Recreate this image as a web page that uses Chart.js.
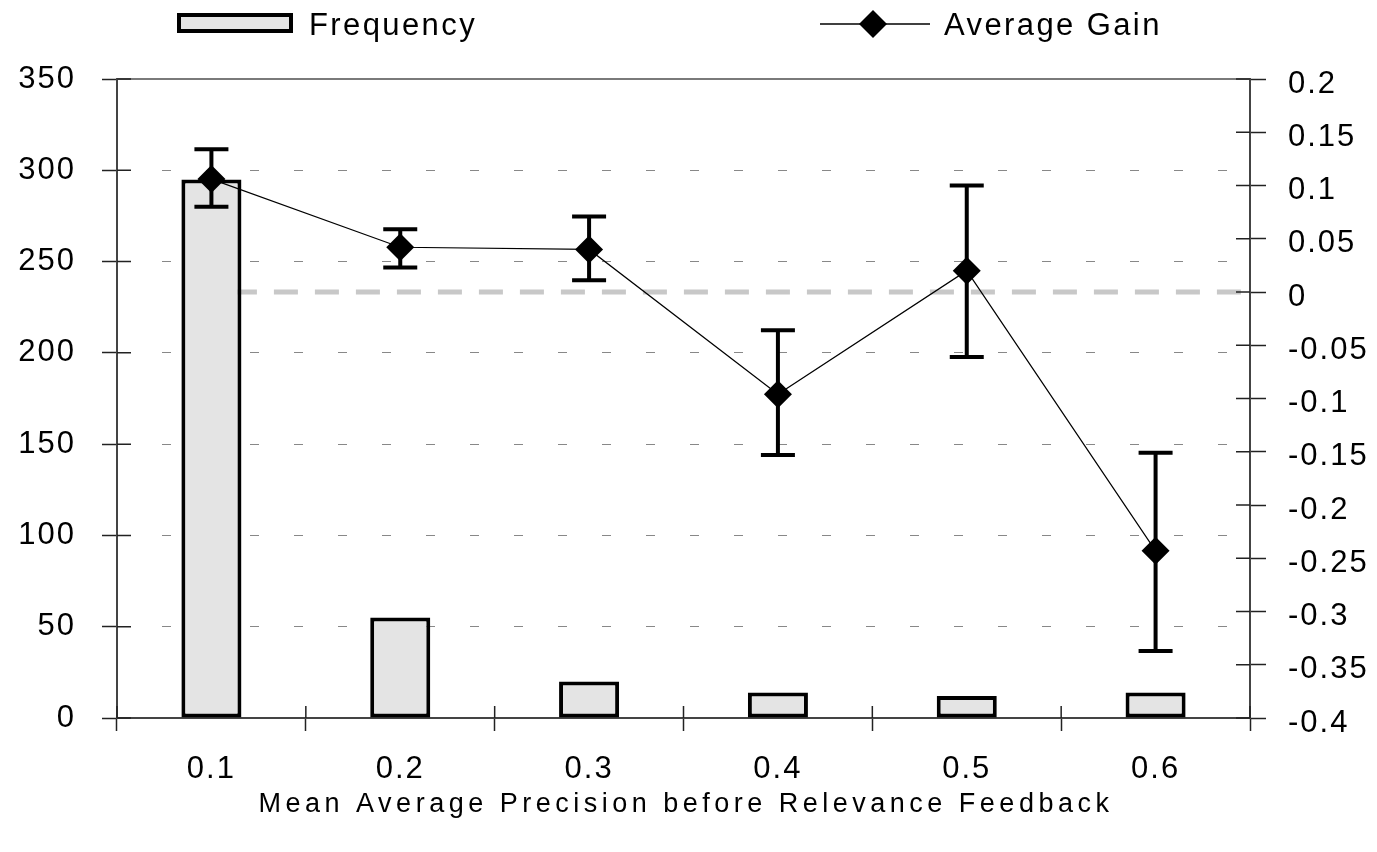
<!DOCTYPE html>
<html>
<head>
<meta charset="utf-8">
<script src="https://cdn.jsdelivr.net/npm/chart.js@4.4.0/dist/chart.umd.min.js"></script>
<style>
  html, body { margin: 0; padding: 0; background: #fff; }
  canvas { display: block; }
</style>
</head>
<body>
<canvas id="chart" width="1377" height="852"></canvas>
<script>
// Значения
const categories = ['0.1', '0.2', '0.3', '0.4', '0.5', '0.6'];
const frequency = [295, 55, 20, 14, 12, 14];
const avgGain = [0.106, 0.042, 0.040, -0.096, 0.020, -0.243];
const gainHigh = [0.134, 0.059, 0.071, -0.036, 0.100, -0.151];
const gainLow = [0.080, 0.023, 0.011, -0.153, -0.061, -0.337];
const freqTicks = [0, 50, 100, 150, 200, 250, 300, 350];
const gainTicks = [-0.4, -0.35, -0.3, -0.25, -0.2, -0.15, -0.1, -0.05, 0, 0.05, 0.1, 0.15, 0.2];

const FONT = "'Liberation Sans', Arial, Helvetica, sans-serif";
const SPACING = '2px';

// Разрядка букв, пунктир нуля, планки погрешностей, легенда и подпись оси
const decor = {
    id: 'decor',
    beforeLayout(chart) { chart.ctx.letterSpacing = SPACING; },
    beforeDraw(chart) { chart.ctx.letterSpacing = SPACING; },
    beforeDatasetsDraw(chart) {
        const { ctx, chartArea: a, scales: { x, yGain } } = chart;
        ctx.save();
        // верхняя рамка
        ctx.strokeStyle = '#7a7a7a';
        ctx.lineWidth = 2;
        ctx.beginPath();
        ctx.moveTo(a.left, a.top);
        ctx.lineTo(a.right, a.top);
        ctx.stroke();
        // линия нуля
        const y0 = yGain.getPixelForValue(0);
        ctx.strokeStyle = '#c8c8c8';
        ctx.lineWidth = 5;
        ctx.setLineDash([24, 17]);
        ctx.lineDashOffset = 19.5;
        ctx.beginPath();
        ctx.moveTo(x.getPixelForValue(0), y0);
        ctx.lineTo(a.right, y0);
        ctx.stroke();
        ctx.restore();
    },
    afterDatasetsDraw(chart) {
        const { ctx, chartArea: a, scales: { x, yFreq, yGain } } = chart;
        ctx.save();
        // внутренние половинки засечек
        ctx.strokeStyle = '#222';
        ctx.lineWidth = 1.5;
        ctx.beginPath();
        yFreq.ticks.forEach((t, i) => {
            const y = yFreq.getPixelForTick(i);
            ctx.moveTo(a.left, y);
            ctx.lineTo(a.left + 14, y);
        });
        yGain.ticks.forEach((t, i) => {
            const y = yGain.getPixelForTick(i);
            ctx.moveTo(a.right - 14, y);
            ctx.lineTo(a.right, y);
        });
        for (let i = 0; i <= categories.length; i++) {
            const px = x.getPixelForValue(i - 0.5);
            ctx.moveTo(px, a.bottom - 12);
            ctx.lineTo(px, a.bottom);
        }
        ctx.stroke();

        // планки погрешностей
        ctx.strokeStyle = '#000';
        ctx.lineWidth = 4;
        ctx.beginPath();
        categories.forEach((c, i) => {
            const px = x.getPixelForValue(i);
            const yt = yGain.getPixelForValue(gainHigh[i]);
            const yb = yGain.getPixelForValue(gainLow[i]);
            ctx.moveTo(px, yt); ctx.lineTo(px, yb);
            ctx.moveTo(px - 17, yt); ctx.lineTo(px + 17, yt);
            ctx.moveTo(px - 17, yb); ctx.lineTo(px + 17, yb);
        });
        ctx.stroke();
        ctx.restore();
    },
    afterDraw(chart) {
        const { ctx } = chart;
        ctx.save();
        // легенда
        ctx.fillStyle = '#e4e4e4';
        ctx.fillRect(179, 15, 112, 16);
        ctx.strokeStyle = '#000';
        ctx.lineWidth = 4;
        ctx.strokeRect(179, 15, 112, 16);
        ctx.lineWidth = 1.5;
        ctx.beginPath();
        ctx.moveTo(820, 24);
        ctx.lineTo(930, 24);
        ctx.stroke();
        ctx.fillStyle = '#000';
        ctx.beginPath();
        ctx.moveTo(873 - 14, 24);
        ctx.lineTo(873, 24 - 14);
        ctx.lineTo(873 + 14, 24);
        ctx.lineTo(873, 24 + 14);
        ctx.closePath();
        ctx.fill();

        ctx.font = '31px ' + FONT;
        ctx.letterSpacing = '2.4px';
        ctx.textBaseline = 'middle';
        ctx.textAlign = 'left';
        ctx.fillText('Frequency', 309, 26);
        ctx.fillText('Average Gain', 944, 26);

        // подпись оси X
        ctx.font = '27px ' + FONT;
        ctx.letterSpacing = '4.5px';
        ctx.textAlign = 'center';
        ctx.fillText('Mean Average Precision before Relevance Feedback', 686, 805);
        ctx.restore();
    }
};

const tickFont = { family: FONT, size: 31 };

new Chart(document.getElementById('chart'), {
    data: {
        labels: categories,
        datasets: [
            {
                type: 'line',
                label: 'Average Gain',
                data: avgGain,
                yAxisID: 'yGain',
                order: 0,
                borderColor: '#000',
                borderWidth: 1.2,
                tension: 0,
                pointStyle: 'rectRot',
                pointRadius: 14,
                pointBackgroundColor: '#000',
                pointBorderWidth: 0
            },
            {
                type: 'bar',
                label: 'Frequency',
                data: frequency,
                yAxisID: 'yFreq',
                order: 1,
                backgroundColor: '#e4e4e4',
                borderColor: '#000',
                borderWidth: 4,
                borderSkipped: false,
                barPercentage: 0.318,
                categoryPercentage: 1
            }
        ]
    },
    options: {
        responsive: false,
        animation: false,
        layout: { padding: { top: 79, left: 0, right: 0, bottom: 0 } },
        plugins: {
            legend: { display: false },
            tooltip: { enabled: false }
        },
        scales: {
            x: {
                type: 'category',
                offset: true,
                grid: {
                    offset: true,
                    drawOnChartArea: false,
                    tickLength: 13,
                    tickColor: '#222',
                    tickWidth: 1.5
                },
                border: { color: '#444', width: 2 },
                ticks: { font: tickFont, color: '#000', padding: 20 },
                afterFit(s) { s.height = 134; }
            },
            yFreq: {
                type: 'linear',
                position: 'left',
                min: freqTicks[0],
                max: freqTicks[freqTicks.length - 1],
                afterBuildTicks(s) { s.ticks = freqTicks.map(v => ({ value: v })); },
                grid: {
                    color: '#888',
                    lineWidth: 1,
                    tickLength: 15,
                    tickColor: '#222',
                    tickWidth: 1.5,
                    tickBorderDash: []
                },
                border: { color: '#444', width: 2, dash: [9, 35] },
                ticks: { font: tickFont, color: '#000', padding: 26, callback: v => String(v) },
                afterFit(s) { s.width = 117; }
            },
            yGain: {
                type: 'linear',
                position: 'right',
                min: gainTicks[0],
                max: gainTicks[gainTicks.length - 1],
                afterBuildTicks(s) { s.ticks = gainTicks.map(v => ({ value: v })); },
                grid: {
                    drawOnChartArea: false,
                    tickLength: 16,
                    tickColor: '#222',
                    tickWidth: 1.5
                },
                border: { color: '#444', width: 2 },
                ticks: { font: tickFont, color: '#000', padding: 22, labelOffset: 5, callback: v => String(v) },
                afterFit(s) { s.width = 127; }
            }
        }
    },
    plugins: [decor]
});
</script>
</body>
</html>
